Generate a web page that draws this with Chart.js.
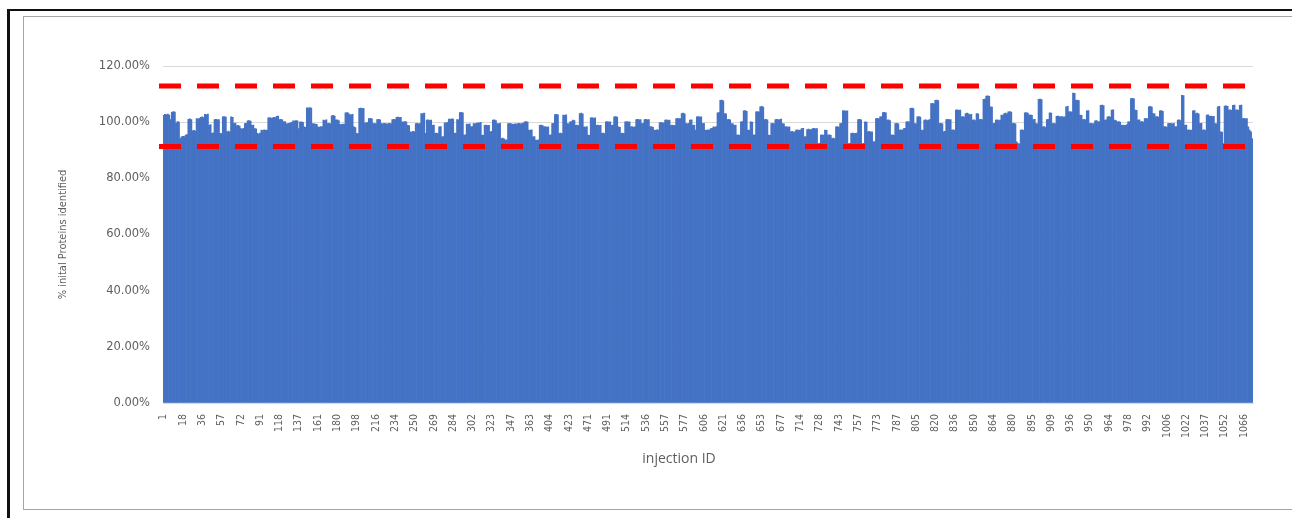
<!DOCTYPE html>
<html>
<head>
<meta charset="utf-8">
<title>% initial proteins identified per injection</title>
<script src="https://cdn.jsdelivr.net/npm/chart.js@4.4.1/dist/chart.umd.min.js"></script>
<style>
    html, body { margin: 0; padding: 0; background: #fff; overflow: hidden; }
    #frame { position: absolute; left: 7px; top: 9px; width: 1300px; height: 520px;
             border-top: 2px solid #111; border-left: 3px solid #111; }
    #inner { position: absolute; left: 23px; top: 16px; width: 1300px; height: 492px;
             border: 1px solid #a6a6a6; }
    #chart { position: absolute; left: 0; top: 0; }
</style>
</head>
<body>
<div id="frame"></div>
<div id="inner"></div>
<canvas id="chart" width="1308" height="518"></canvas>
<script>
// visible x tick labels (injection IDs), one every LABEL_EVERY bars
const tickLabels = ['1', '18', '36', '57', '72', '91', '118', '137', '161', '180', '198', '216', '234',
    '250', '269', '284', '302', '323', '347', '363', '404', '423', '471', '491', '514', '536', '557',
    '577', '606', '621', '636', '653', '677', '714', '728', '743', '757', '773', '787', '805', '820',
    '836', '850', '864', '880', '895', '909', '936', '950', '964', '978', '992', '1006', '1022',
    '1037', '1052', '1066'];
const LABEL_EVERY = 14;

// % of initial proteins identified (bars 0-186)
const pctPart1 = [
    102.4, 102.8, 102.6, 102.9, 102.5, 100.9, 103.5, 103.8, 103.6, 99.6, 100.2, 100.0, 94.2,
    94.8, 95.0, 94.9, 95.4, 95.6, 101.0, 101.2, 100.9, 96.9, 97.1, 96.8, 101.3, 101.1, 101.4,
    101.7, 101.9, 101.6, 102.8, 102.6, 102.9, 98.9, 99.1, 96.0, 96.2, 100.9, 101.0, 100.8, 100.9,
    96.0, 95.9, 101.9, 102.0, 101.8, 96.6, 96.8, 96.5, 101.9, 101.7, 99.5, 99.7, 98.7, 98.9, 98.6,
    97.7, 97.5, 97.8, 99.5, 99.6, 100.5, 100.6, 100.4, 98.9, 99.0, 97.7, 97.6, 96.0, 95.8, 96.1,
    97.2, 97.0, 97.3, 97.1, 97.2, 101.5, 101.6, 101.4, 101.5, 101.7, 101.5, 102.1, 102.2,
    100.9, 101.0, 100.8, 100.1, 100.2, 99.5, 99.4, 99.6, 99.8, 99.9, 100.5, 100.4, 100.6, 100.5,
    97.7, 100.0, 100.1, 99.9, 98.3, 98.2, 105.1, 105.0, 105.2, 105.0, 99.5, 99.4, 99.3, 99.2,
    98.3, 98.2, 98.4, 98.3, 100.7, 100.6, 100.8, 99.5, 99.6, 99.4, 102.3, 102.4, 102.2,
    100.7, 100.8, 100.6, 99.2, 99.1, 99.3, 99.2, 103.3, 103.4, 103.2, 102.7, 102.6, 102.8,
    98.3, 98.1, 96.0, 95.9, 104.9, 105.0, 104.8, 104.9, 99.8, 99.7, 99.9, 101.3, 101.4, 101.2,
    99.5, 99.6, 99.4, 100.9, 101.0, 100.8, 99.5, 99.4, 99.6, 99.5, 99.3, 99.5, 99.6, 99.4,
    100.9, 101.0, 100.9, 101.7, 101.8, 101.6, 101.7, 100.1, 100.0, 100.2, 100.1, 98.9, 98.8,
    96.6, 96.5, 96.7, 96.6, 99.5, 99.6, 99.4, 99.5
];
// bars 187-383
const pctPart2 = [
    103.1, 103.0, 103.2, 96.0, 100.7, 100.8, 100.6, 100.7, 98.9, 99.0, 96.0, 96.1, 95.9,
    98.3, 98.4, 94.8, 94.9, 99.8, 99.7, 99.9, 101.1, 101.0, 101.2, 101.1, 96.0, 96.1,
    100.9, 100.8, 103.4, 103.5, 103.3, 95.4, 95.5, 99.3, 99.2, 99.4, 98.3, 98.4,
    99.5, 99.4, 99.6, 99.8, 99.7, 99.9, 95.4, 95.3, 98.9, 99.0, 98.8, 98.9, 96.6, 96.7,
    100.7, 100.8, 100.6, 99.5, 99.4, 99.6, 94.2, 94.3, 94.1, 93.6, 93.7, 99.5, 99.6, 99.4,
    99.3, 99.2, 99.4, 99.3, 99.5, 99.6, 99.4, 99.5, 99.7, 100.1, 100.2, 100.0, 97.2, 97.1, 97.3,
    94.8, 94.9, 93.6, 93.5, 93.7, 98.9, 99.0, 98.8, 98.3, 98.4, 98.2, 98.3, 95.4, 95.5,
    99.5, 99.6, 102.7, 102.8, 102.6, 96.0, 96.1, 95.9, 102.5, 102.4, 102.6, 99.5, 99.4,
    100.1, 100.2, 100.7, 100.6, 98.9, 99.0, 98.8, 103.1, 103.2, 103.0, 98.3, 98.2, 98.4,
    95.4, 95.3, 101.5, 101.6, 101.4, 101.5, 98.9, 99.0, 98.8, 98.9, 96.0, 96.1, 95.9,
    100.1, 100.2, 100.0, 100.1, 98.9, 99.0, 101.9, 102.0, 101.8, 98.3, 98.2, 96.0, 96.1, 95.9,
    100.1, 100.2, 100.0, 100.1, 98.3, 98.4, 98.2, 98.3, 100.9, 101.0, 100.8, 100.9, 99.5, 99.6,
    100.9, 101.0, 100.8, 100.9, 98.3, 98.4, 98.2, 97.2, 97.1, 97.3, 97.2, 99.8, 99.9, 99.7, 99.8,
    100.7, 100.8, 100.6, 100.7, 98.9, 99.0, 98.8, 98.9, 101.3, 101.4, 101.2, 101.3,
    103.1, 103.2, 103.0, 99.5, 99.4, 99.6, 100.7, 100.8
];
// bars 384-581
const pctPart3 = [
    98.9, 99.0, 97.2, 101.9, 102.0, 101.8, 101.9, 99.5, 99.6, 97.2, 97.1, 97.3, 97.2, 97.7, 97.8,
    98.3, 98.2, 98.4, 103.3, 103.4, 107.8, 107.9, 107.6, 103.1, 103.0, 100.9, 101.0, 100.8,
    99.5, 99.4, 98.9, 99.0, 95.4, 95.5, 95.3, 100.1, 100.2, 104.0, 104.1, 103.9, 97.2, 97.1,
    100.1, 100.0, 95.4, 95.5, 103.7, 103.8, 103.6, 105.5, 105.6, 105.4, 100.9, 101.0, 100.8,
    95.4, 95.3, 99.5, 99.6, 99.4, 100.9, 101.0, 100.8, 100.9, 101.1, 99.5, 99.4,
    98.3, 98.4, 98.2, 98.3, 96.6, 96.7, 96.5, 96.6, 97.2, 97.3, 97.1, 97.2, 97.7, 97.8,
    94.8, 94.9, 97.4, 97.5, 97.3, 97.4, 97.7, 97.8, 97.6, 97.7, 92.4, 92.5, 95.4, 95.5, 95.3,
    97.2, 97.1, 95.4, 95.5, 95.3, 94.2, 94.3, 94.1, 98.3, 98.4, 98.2, 99.5, 99.6,
    104.0, 104.1, 103.9, 104.0, 92.4, 92.5, 96.0, 96.1, 95.9, 96.0, 96.1, 100.9, 101.0, 100.8,
    92.4, 92.5, 100.1, 100.0, 96.6, 96.7, 96.5, 96.6, 93.0, 93.1, 101.3, 101.4, 101.2,
    101.9, 102.0, 103.4, 103.5, 103.3, 100.7, 100.8, 100.6, 95.4, 95.5, 95.3, 99.5, 99.6, 99.4,
    97.2, 97.3, 97.1, 97.7, 97.8, 100.1, 100.2, 100.0, 104.9, 105.0, 104.8, 99.5, 99.4,
    101.9, 102.0, 101.8, 97.2, 97.1, 100.7, 100.8, 100.6, 100.7, 100.9, 106.6, 106.7, 106.5,
    107.8, 107.9, 107.7, 99.5, 99.6, 99.4, 96.6, 96.7, 100.9, 101.0, 100.8, 100.9,
    97.2, 97.3, 97.1, 104.3, 104.4, 104.2, 104.3, 101.9, 102.0, 101.8
];
// bars 582-790
const pctPart4 = [
    103.1, 103.2, 103.0, 102.6, 102.8, 100.7, 100.8, 100.6, 103.1, 103.0, 100.9, 101.0, 100.8,
    108.1, 108.2, 109.3, 109.4, 109.2, 105.5, 105.4, 99.5, 99.6, 100.7, 100.8, 100.6, 100.7,
    102.5, 102.4, 103.1, 103.2, 103.0, 103.7, 103.8, 103.6, 99.5, 99.6, 99.4, 93.0, 92.4, 92.3,
    97.2, 97.3, 97.1, 103.3, 103.4, 103.2, 102.5, 102.6, 102.4, 100.9, 101.0, 99.5, 99.4,
    108.1, 108.2, 108.0, 98.3, 98.4, 98.2, 100.9, 101.0, 103.3, 103.2, 99.5, 99.6, 99.4,
    102.1, 102.2, 102.0, 101.9, 102.0, 101.8, 101.9, 105.5, 105.6, 103.7, 103.8, 103.6,
    110.4, 110.3, 107.8, 107.9, 107.7, 102.5, 102.4, 100.9, 101.0, 100.8, 104.0, 104.1,
    99.5, 99.6, 99.4, 99.5, 100.5, 100.6, 100.1, 100.2, 106.0, 106.1, 105.9, 100.7, 100.8,
    101.9, 102.0, 101.8, 104.3, 104.4, 100.7, 100.6, 100.1, 100.2, 100.0,
    98.9, 99.0, 98.8, 98.9, 99.1, 100.1, 100.2, 108.4, 108.5, 108.3, 104.3, 104.2, 100.7, 100.8,
    100.1, 100.2, 100.0, 101.3, 101.4, 101.2, 105.5, 105.6, 105.4, 103.1, 103.0,
    101.9, 102.0, 101.8, 104.0, 104.1, 103.9, 98.3, 98.4, 98.2, 99.5, 99.6, 99.5, 99.4, 99.6,
    98.3, 98.4, 100.7, 100.8, 100.6, 109.6, 109.5, 98.9, 99.0, 97.2, 97.3, 97.1, 97.2,
    104.0, 104.1, 103.1, 103.2, 103.0, 99.5, 99.6, 97.2, 97.3, 97.1, 102.5, 102.6,
    102.1, 102.2, 102.0, 102.1, 99.5, 99.4, 105.5, 105.6, 96.6, 96.5, 92.4,
    105.7, 105.8, 105.6, 104.3, 104.4, 104.2, 106.0, 106.1, 104.3, 104.4, 104.2, 106.0, 106.1,
    101.3, 101.4, 101.2, 101.3, 98.3, 97.2, 96.6, 94.2
];

// upper / lower control limits (dashed red lines)
const limitValues = [112.9, 91.3];

const proteinPct = pctPart1.concat(pctPart2, pctPart3, pctPart4);
const categories = proteinPct.map((_, i) => (i % LABEL_EVERY === 0 ? tickLabels[i / LABEL_EVERY] : ''));

const AXIS_GREY = '#5f5f5f';
const NARROW = "'DejaVu Sans Condensed', 'Liberation Sans Narrow', sans-serif";

// dashed limit lines, placed through the y scale
const limitLinesPlugin = {
    id: 'limitLines',
    afterDatasetsDraw(chart) {
        const { ctx, chartArea, scales: { y } } = chart;
        ctx.save();
        ctx.strokeStyle = '#FF0000';
        ctx.lineWidth = 5;
        ctx.setLineDash([22, 16]);
        limitValues.forEach(v => {
            const py = y.getPixelForValue(v);
            ctx.beginPath();
            ctx.moveTo(chartArea.left - 4, py);
            ctx.lineTo(chartArea.right, py);
            ctx.stroke();
        });
        ctx.restore();
    }
};

new Chart(document.getElementById('chart'), {
    type: 'bar',
    data: {
        labels: categories,
        datasets: [{
            label: '% inital Proteins identified',
            data: proteinPct,
            backgroundColor: '#4472C4',
            borderWidth: 0,
            barPercentage: 1,
            categoryPercentage: 1,
        }]
    },
    options: {
        responsive: false,
        animation: false,
        layout: { padding: { left: 50, right: 0, top: 66, bottom: 0 } },
        plugins: {
            legend: { display: false },
            tooltip: { enabled: false },
            // x axis title, centred on the whole plot box like the original
            title: {
                display: true,
                position: 'bottom',
                text: 'injection ID',
                color: AXIS_GREY,
                font: { family: "'Open Sans', sans-serif", size: 14, weight: 'normal' },
                padding: { top: 0, bottom: 50.6 },
            },
        },
        scales: {
            x: {
                grid: { display: false },
                border: { display: true, color: '#d9d9d9' },
                ticks: {
                    autoSkip: false,
                    minRotation: 90,
                    maxRotation: 90,
                    padding: 3,
                    color: AXIS_GREY,
                    font: { family: NARROW, size: 10.5 },
                },
                afterFit(scale) { scale.height = 47.6; },
            },
            y: {
                min: 0,
                max: 120,
                grid: { color: '#d9d9d9', drawTicks: false },
                border: { display: false },
                ticks: {
                    stepSize: 20,
                    padding: 13,
                    color: AXIS_GREY,
                    font: { family: "'DejaVu Sans', sans-serif", size: 11.5 },
                    callback: v => v.toFixed(2) + '%',
                },
                title: {
                    display: true,
                    text: '% inital Proteins identified',
                    color: AXIS_GREY,
                    font: { family: NARROW, size: 11 },
                    padding: { top: 6.4, bottom: 0 },
                },
                afterFit(scale) { scale.width = 113; },
            },
            // empty spacer on the right so the plot ends where the original does
            spacer: {
                type: 'linear',
                position: 'right',
                grid: { display: false },
                border: { display: false },
                ticks: { display: false },
                afterFit(scale) { scale.width = 55; },
            }
        }
    },
    plugins: [limitLinesPlugin]
});
</script>
</body>
</html>
